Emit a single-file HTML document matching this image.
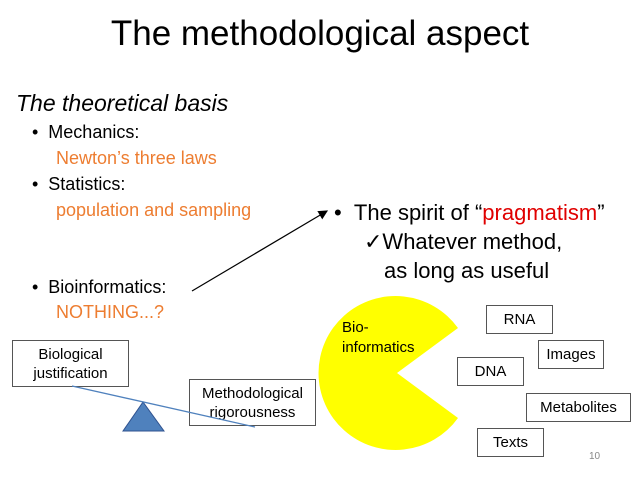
<!DOCTYPE html><html><head><style>
body{margin:0;width:640px;height:480px;background:#fff;font-family:"Liberation Sans",sans-serif;position:relative;overflow:hidden}
.t{position:absolute;white-space:nowrap}
.o{color:#ED7D31}
.b{position:absolute;border:1px solid #555;background:#fff;box-sizing:border-box;display:flex;align-items:center;justify-content:center;text-align:center;font-size:15px;line-height:19px}
</style></head><body>
<svg width="640" height="480" style="position:absolute;left:0;top:0">
<path d="M397,373 L458,328 A77,77 0 1 0 458,418 Z" fill="#FFFF00"/>
<polygon points="143,402 123,431 164,431" fill="#4F81BD" stroke="#2F528F"/>
<defs><marker id="a" markerWidth="8" markerHeight="8" refX="7" refY="4" orient="auto"><path d="M0,0 L8,4 L0,8 Z" fill="#000"/></marker></defs>
<line x1="192" y1="291" x2="327" y2="211" stroke="#000" stroke-width="1.2" marker-end="url(#a)"/>
</svg>
<div class="t" style="left:0;width:640px;text-align:center;top:14px;font-size:35px">The methodological aspect</div>
<div class="t" style="left:16px;top:90px;font-size:23px;font-style:italic">The theoretical basis</div>
<div class="t" style="left:32px;top:119px;font-size:18px;line-height:26px">•&nbsp;&nbsp;Mechanics:<br><span class="o" style="margin-left:24px">Newton’s three laws</span><br>•&nbsp;&nbsp;Statistics:<br><span class="o" style="margin-left:24px">population and sampling</span></div>
<div class="t" style="left:32px;top:275px;font-size:18px;line-height:25px">•&nbsp;&nbsp;Bioinformatics:<br><span class="o" style="margin-left:24px">NOTHING...?</span></div>
<div class="t" style="left:334px;top:198px;font-size:22px;line-height:29px">•&nbsp;&nbsp;The spirit of “<span style="color:#e00000">pragmatism</span>”<br><span style="margin-left:30px">✓Whatever method,</span><br><span style="margin-left:50px">as long as useful</span></div>
<div class="t" style="left:342px;top:318px;font-size:15px;line-height:20px">Bio-<br>informatics</div>
<div class="b" style="left:12px;top:340px;width:117px;height:47px">Biological<br>justification</div>
<div class="b" style="left:189px;top:379px;width:127px;height:47px;background:transparent">Methodological<br>rigorousness</div>
<svg width="640" height="480" style="position:absolute;left:0;top:0"><line x1="72" y1="386" x2="255" y2="427" stroke="#4F81BD" stroke-width="1.3"/></svg>
<div class="b" style="left:486px;top:305px;width:67px;height:29px">RNA</div>
<div class="b" style="left:538px;top:340px;width:66px;height:29px">Images</div>
<div class="b" style="left:457px;top:357px;width:67px;height:29px">DNA</div>
<div class="b" style="left:526px;top:393px;width:105px;height:29px">Metabolites</div>
<div class="b" style="left:477px;top:428px;width:67px;height:29px">Texts</div>
<div class="t" style="left:589px;top:451px;font-size:10px;color:#888">10</div>
</body></html>
